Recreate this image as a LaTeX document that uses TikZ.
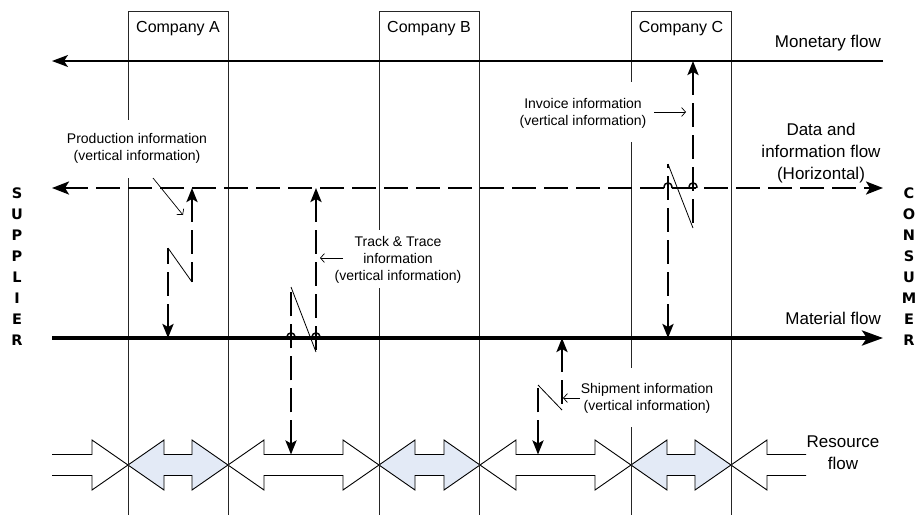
\documentclass[tikz,border=0pt]{standalone}
\usepackage{fontspec}
\setmainfont{Liberation Sans}
\newfontfamily\sidefont{DejaVu Sans}
\usetikzlibrary{arrows.meta}

\definecolor{resblue}{RGB}{227,234,246}

% double headed resource arrow between two tips
\newcommand{\resarrow}[3]{%
  \draw[resource,fill=#3] (#1,465) -- ({#1+36},440) -- ({#1+36},454.5)
    -- ({#2-36},454.5) -- ({#2-36},440) -- (#2,465) -- ({#2-36},490)
    -- ({#2-36},475.5) -- ({#1+36},475.5) -- ({#1+36},490) -- cycle;}
% small line jump on a flow
\newcommand{\hop}[1]{%
  \draw[hop] ([xshift=-4pt]#1) .. controls +(0,-7) and +(0,-7) .. ([xshift=4pt]#1);}

\tikzset{
  company/.style={line width=0.9pt, black!85},
  company label/.style={font=\fontsize{16}{19}\selectfont, inner sep=0pt},
  flow label/.style={font=\fontsize{17}{22}\selectfont, align=center, inner sep=0pt},
  info label/.style={font=\fontsize{14}{17}\selectfont, align=center, inner sep=0pt},
  side letter/.style={font=\sidefont\bfseries\fontsize{14.5}{14.5}\selectfont, inner sep=0pt},
  resource/.style={line width=0.9pt},
  info/.style={line width=2.5pt, dash pattern=on 24pt off 8pt},
  zig/.style={line width=0.8pt},
  note/.style={line width=0.7pt, -{Straight Barb[length=4pt,width=9pt]}},
  hop/.style={line width=1.5pt}
}

\begin{document}
\begin{tikzpicture}[x=1pt,y=-1pt,>={Stealth[length=14pt,width=11pt,inset=3pt]}]
    \useasboundingbox (0,0) rectangle (924,515);

    % levels of the four flows
    \coordinate (mon-l) at (52,61);   \coordinate (mon-r) at (883,61);
    \coordinate (dat-l) at (52,188);  \coordinate (dat-r) at (883,188);
    \coordinate (mat-l) at (52,338);  \coordinate (mat-r) at (883,338);
    \coordinate (res) at (0,454.5);

    % resource flow
    \draw[resource] (52,454.5) -- (92,454.5) -- (92,440) -- (128,465) -- (92,490) -- (92,475.5) -- (52,475.5);
    \draw[resource] (806,454.5) -- (767,454.5) -- (767,440) -- (731,465) -- (767,490) -- (767,475.5) -- (806,475.5);
    \foreach \a/\b/\c in {128/228/resblue,228/379/white,379/480/resblue,480/631/white,631/731/resblue}
      {\resarrow{\a}{\b}{\c}}

    % companies
    \foreach \n/\x in {A/128,B/379,C/631} {
      \node[company label] (comp\n) at (\x+50,29) {Company \n};
      \draw[company] (\x,11) -- (\x+100,11) -- (\x+100,515);
    }
    \draw[company] (128,11) -- (128,120) (128,178) -- (128,515);
    \draw[company] (379,11) -- (379,230) (379,288) -- (379,515);
    \draw[company] (631,11) -- (631,82) (631,142) -- (631,368) (631,427) -- (631,515);

    % flows
    \draw[line width=1.3pt, -{Stealth[length=16pt,width=12pt,inset=4pt]}] (mon-r) -- (mon-l);
    \draw[info, {Stealth[length=17pt,width=13pt,inset=4pt]}-{Stealth[length=17pt,width=13pt,inset=4pt]}] (dat-l) -- (dat-r);
    \draw[line width=3.5pt, -{Stealth[length=21pt,width=15pt,inset=5pt]}] (mat-l) -- (mat-r);

    \node[flow label, anchor=east] (mon-label) at (881,43) {Monetary flow};
    \node[flow label] (dat-label) at (821,153) {Data and\\information flow\\(Horizontal)};
    \node[flow label, anchor=east] (mat-label) at (881,318) {Material flow};
    \node[flow label] (res-label) at (843,453) {Resource\\flow};

    % production information
    \coordinate (prod-a) at (192,282);
    \coordinate (prod-b) at (168,248);
    \draw[info,<-] (prod-a |- dat-l) -- (prod-a);
    \draw[zig] (prod-a) -- (prod-b);
    \draw[info,<-] (prod-b |- mat-l) -- (prod-b);
    \node[info label] (prod-label) at (137,148.5) {Production information\\(vertical information)};
    \coordinate (prod-note-a) at (153,178);
    \coordinate (prod-note-b) at (183,215);
    \draw[note] (prod-note-a) -- (prod-note-b);

    % track and trace information
    \coordinate (track-a) at (316,352);
    \coordinate (track-b) at (291,287);
    \draw[info,<-] (track-a |- dat-l) -- (track-a);
    \draw[zig] (track-a) -- (track-b);
    \draw[info,<-] (track-b |- res) -- (track-b);
    \coordinate (track-hop1) at (track-b |- mat-l);
    \coordinate (track-hop2) at (track-a |- mat-l);
    \hop{track-hop1}
    \hop{track-hop2}
    \node[info label] (track-label) at (398,260) {Track \& Trace\\information\\(vertical information)};
    \coordinate (track-note-a) at (343,258);
    \coordinate (track-note-b) at (320,258);
    \draw[note] (track-note-a) -- (track-note-b);

    % invoice information
    \coordinate (inv-a) at (693,228);
    \coordinate (inv-b) at (668,164);
    \draw[info,<-] (inv-a |- mon-l) -- (inv-a);
    \draw[zig] (inv-a) -- (inv-b);
    \draw[info,<-] (inv-b |- mat-l) -- (inv-b);
    \coordinate (inv-hop1) at (inv-b |- dat-l);
    \coordinate (inv-hop2) at (inv-a |- dat-l);
    \hop{inv-hop1}
    \hop{inv-hop2}
    \node[info label] (inv-label) at (583,113.5) {Invoice information\\(vertical information)};
    \coordinate (inv-note-a) at (654,112);
    \coordinate (inv-note-b) at (686,112);
    \draw[note] (inv-note-a) -- (inv-note-b);

    % shipment information
    \coordinate (ship-a) at (562,410);
    \coordinate (ship-b) at (538,385);
    \draw[info,<-] (ship-a |- mat-l) -- (ship-a);
    \draw[zig] (ship-a) -- (ship-b);
    \draw[info,<-] (ship-b |- res) -- (ship-b);
    \node[info label] (ship-label) at (647,398.5) {Shipment information\\(vertical information)};
    \coordinate (ship-note-a) at (580,398);
    \coordinate (ship-note-b) at (563,398);
    \draw[note] (ship-note-a) -- (ship-note-b);

    % supplier and consumer
    \foreach \l [count=\i] in {S,U,P,P,L,I,E,R}
      {\node[side letter] (sup-\i) at (17,172+21*\i) {\l};}
    \foreach \l [count=\i] in {C,O,N,S,U,M,E,R}
      {\node[side letter] (con-\i) at (909,172+21*\i) {\l};}
\end{tikzpicture}
\end{document}
